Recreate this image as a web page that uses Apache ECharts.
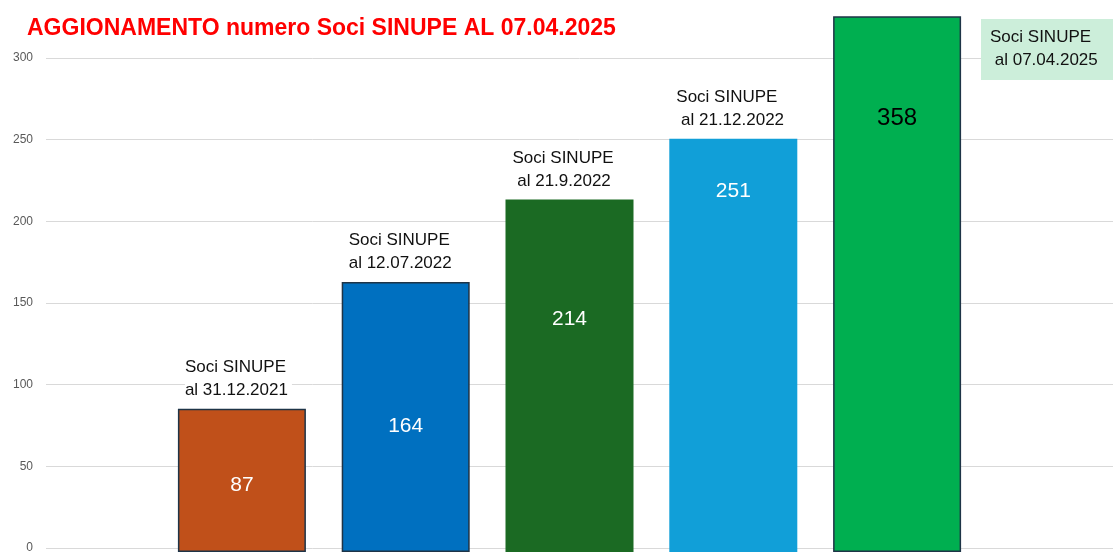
<!DOCTYPE html>
<html>
<head>
<meta charset="utf-8">
<script src="https://cdn.jsdelivr.net/npm/echarts@6/dist/echarts.min.js"></script>
<style>
  html, body { margin: 0; padding: 0; background: #fff; }
  #chart { width: 1113px; height: 554px; }
</style>
</head>
<body>
<div id="chart"></div>
<script>
// dati
const dates = ['al 31.12.2021', 'al 12.07.2022', ' al 21.9.2022', ' al 21.12.2022', ' al 07.04.2025']
const soci = [87, 164, 214, 251, 358]
const yTicks = [0, 50, 100, 150, 200, 250, 300]

// stile barre
const barColors = ['#C0501A', '#0070C0', '#1B6A23', '#119FD8', '#00AF50']
const barBorders = ['#1E3447', '#1E3447', null, null, '#1E3447']
const labelColors = ['#fff', '#fff', '#fff', '#fff', '#000']
const labelDrop = [66, 134, 109, 42, 90]
const labelSizes = [21, 21, 21, 21, 24]

const font = '"Liberation Sans", Arial, sans-serif'

// altezza area: 300 -> y=58, 0 -> y=552 ; la barra 5 viene tagliata in alto (y=17)
const pxPerUnit = (552 - 58) / 300
const clipMax = (552 - 17) / pxPerUnit

const chart = echarts.init(document.getElementById('chart'), null, { renderer: 'canvas' })

chart.setOption({
  animation: false,
  title: {
    text: 'AGGIONAMENTO numero Soci SINUPE AL 07.04.2025',
    left: 22,
    top: 12,
    textStyle: { color: '#FF0000', fontSize: 23, fontWeight: 'bold', fontFamily: font }
  },
  grid: [
    { left: 46, right: 0, top: 58, bottom: 2 },
    { left: 160, right: 134, top: 17, bottom: 2 }
  ],
  xAxis: [
    { gridIndex: 0, type: 'category', data: [''], show: false },
    {
      gridIndex: 1, type: 'category', data: dates,
      axisLine: { show: false }, axisTick: { show: false }, axisLabel: { show: false }
    }
  ],
  yAxis: [
    {
      gridIndex: 0, type: 'value', min: yTicks[0], max: yTicks[yTicks.length - 1], interval: 50,
      axisLine: { show: false }, axisTick: { show: false },
      axisLabel: { color: '#595959', fontSize: 12, fontFamily: font, margin: 13 },
      splitLine: { lineStyle: { color: '#D9D9D9', width: 1 } }
    },
    { gridIndex: 1, type: 'value', min: 0, max: clipMax, show: false, splitLine: { show: false } }
  ],
  series: [
    {
      type: 'bar',
      xAxisIndex: 1,
      yAxisIndex: 1,
      barWidth: 128,
      clip: true,
      data: soci.map((v, i) => ({
        value: v,
        itemStyle: {
          color: barColors[i],
          borderColor: barBorders[i] || barColors[i],
          borderWidth: barBorders[i] ? 1.5 : 0
        },
        label: {
          show: true,
          position: 'insideTop',
          distance: labelDrop[i],
          color: labelColors[i],
          fontSize: labelSizes[i],
          fontFamily: font
        }
      }))
    },
    {
      // etichette sopra le barre (la quinta va nel riquadro a destra)
      type: 'bar',
      xAxisIndex: 1,
      yAxisIndex: 1,
      barWidth: 128,
      barGap: '-100%',
      silent: true,
      itemStyle: { color: 'transparent' },
      data: soci.slice(0, 4).map((v, i) => ({
        value: v,
        label: {
          show: true,
          position: 'top',
          distance: 7,
          formatter: 'Soci SINUPE\n' + dates[i],
          align: 'left',
          offset: [-57, 0],
          color: '#111',
          fontSize: 17,
          lineHeight: 23,
          fontFamily: font,
          backgroundColor: '#fff',
          padding: [0, 4, 0, 0]
        }
      }))
    }
  ],
  graphic: [
    {
      type: 'text',
      left: 981,
      top: 19,
      z: 100,
      style: {
        text: 'Soci SINUPE\n' + dates[4],
        fill: '#111',
        fontSize: 17,
        lineHeight: 23,
        fontFamily: font,
        backgroundColor: '#CCEEDA',
        padding: [7, 10, 8, 9],
        width: 113
      }
    }
  ]
})
</script>
</body>
</html>
